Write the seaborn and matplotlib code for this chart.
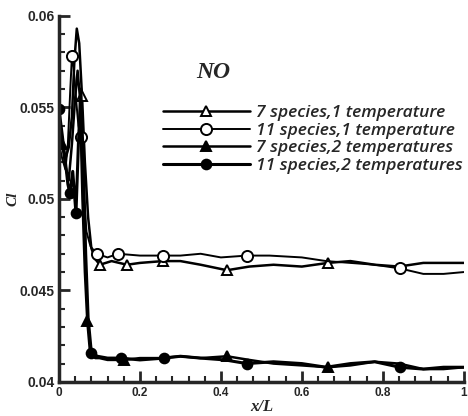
import numpy as np
import pandas as pd
import seaborn as sns
import matplotlib.pyplot as plt
from matplotlib.ticker import MultipleLocator

# 7 species, 1 temperature (open triangles)
x_7s1t = [0, 0.008, 0.016, 0.024, 0.032, 0.038, 0.044, 0.05, 0.057, 0.064, 0.072, 0.08, 0.09,
          0.101, 0.13, 0.168, 0.2, 0.257, 0.3, 0.35, 0.415, 0.47, 0.53, 0.6, 0.664, 0.72, 0.78,
          0.84, 0.9, 0.95, 1.0]
y_7s1t = [0.0538, 0.0530, 0.0522, 0.0528, 0.0545, 0.0575, 0.0593, 0.0585, 0.0556, 0.0520, 0.0490,
          0.0473, 0.0467, 0.0464, 0.0466, 0.0464, 0.0465, 0.0466, 0.0466, 0.0464, 0.0461, 0.0463,
          0.0464, 0.0463, 0.0465, 0.0466, 0.0464, 0.0463, 0.0465, 0.0465, 0.0465]
m_7s1t = [0.057, 0.101, 0.168, 0.257, 0.415, 0.664]

# 11 species, 1 temperature (open circles)
x_11s1t = [0, 0.008, 0.016, 0.022, 0.028, 0.032, 0.036, 0.042, 0.048, 0.054, 0.06, 0.068, 0.078,
           0.093, 0.12, 0.146, 0.2, 0.257, 0.3, 0.35, 0.4, 0.464, 0.52, 0.6, 0.66, 0.72, 0.78,
           0.842, 0.9, 0.95, 1.0]
y_11s1t = [0.0530, 0.0522, 0.0516, 0.0530, 0.0560, 0.0578, 0.0572, 0.0555, 0.0540, 0.0534, 0.0505,
           0.0482, 0.0474, 0.0470, 0.0468, 0.0470, 0.0469, 0.0469, 0.0469, 0.0470, 0.0468, 0.0469,
           0.0469, 0.0468, 0.0466, 0.0465, 0.0464, 0.0462, 0.0459, 0.0459, 0.0460]
m_11s1t = [0.032, 0.054, 0.093, 0.146, 0.257, 0.464, 0.842]

# 7 species, 2 temperatures (filled triangles)
x_7s2t = [0, 0.008, 0.016, 0.024, 0.032, 0.04, 0.046, 0.052, 0.058, 0.064, 0.07, 0.076, 0.082,
          0.09, 0.1, 0.12, 0.16, 0.2, 0.25, 0.3, 0.35, 0.415, 0.47, 0.53, 0.6, 0.664, 0.72, 0.78,
          0.84, 0.9, 0.95, 1.0]
y_7s2t = [0.0540, 0.0530, 0.0518, 0.0510, 0.0530, 0.0555, 0.0570, 0.0555, 0.0500, 0.0460, 0.0433,
          0.0418, 0.0414, 0.0413, 0.0413, 0.0412, 0.0412, 0.0413, 0.0413, 0.0414, 0.0413, 0.0414,
          0.0412, 0.0410, 0.0409, 0.0408, 0.0409, 0.0411, 0.0410, 0.0407, 0.0407, 0.0408]
m_7s2t = [0.008, 0.07, 0.16, 0.415, 0.664]

# 11 species, 2 temperatures (filled circles)
x_11s2t = [0, 0.008, 0.016, 0.022, 0.027, 0.034, 0.042, 0.048, 0.054, 0.06, 0.066, 0.072, 0.08,
           0.095, 0.12, 0.153, 0.2, 0.26, 0.3, 0.35, 0.41, 0.464, 0.53, 0.6, 0.66, 0.72, 0.78,
           0.842, 0.9, 0.95, 1.0]
y_11s2t = [0.0549, 0.0535, 0.0520, 0.0508, 0.0503, 0.0515, 0.0492, 0.0530, 0.0560, 0.0520, 0.0470,
           0.0435, 0.0416, 0.0414, 0.0413, 0.0413, 0.0412, 0.0413, 0.0414, 0.0413, 0.0412, 0.0410,
           0.0411, 0.0410, 0.0408, 0.0410, 0.0411, 0.0408, 0.0407, 0.0408, 0.0408]
m_11s2t = [0, 0.027, 0.042, 0.08, 0.153, 0.26, 0.464, 0.842]

labels = ["7 species,1 temperature", "11 species,1 temperature",
          "7 species,2 temperatures", "11 species,2 temperatures"]

sns.set_style("ticks")
plt.rcParams["font.family"] = ["Liberation Sans", "DejaVu Sans"]

fig = plt.figure(figsize=(4.68, 4.16), dpi=100)
ax = fig.add_axes([0.126, 0.082, 0.865, 0.88])

series = [
    (x_7s1t, y_7s1t, m_7s1t, "^", "white", 7.5, 1.8),
    (x_11s1t, y_11s1t, m_11s1t, "o", "white", 8, 1.4),
    (x_7s2t, y_7s2t, m_7s2t, "^", "black", 7, 1.8),
    (x_11s2t, y_11s2t, m_11s2t, "o", "black", 7, 2.2),
]
for (xs, ys, ms, mk, mfc, msz, lw), lab in zip(series, labels):
    df = pd.DataFrame({"x": xs, "y": ys})
    idx = [xs.index(v) for v in ms]
    sns.lineplot(data=df, x="x", y="y", sort=False, ax=ax, color="black", lw=lw,
                 marker=mk, markevery=idx, markersize=msz, markerfacecolor=mfc,
                 markeredgecolor="black", markeredgewidth=1.4, label=lab)

ax.set_xlim(0, 1)
ax.set_ylim(0.04, 0.06)
ax.xaxis.set_minor_locator(MultipleLocator(0.04))
ax.yaxis.set_minor_locator(MultipleLocator(0.001))
ax.set_xticks([0, 0.2, 0.4, 0.6, 0.8, 1.0])
ax.set_xticklabels(["0", "0.2", "0.4", "0.6", "0.8", "1"])
ax.set_yticks([0.04, 0.045, 0.05, 0.055, 0.06])
ax.set_yticklabels(["0.04", "0.045", "0.05", "0.055", "0.06"])
ax.tick_params(which="major", direction="in", length=8, width=2, pad=3)
ax.tick_params(axis="x", which="major", labelsize=8.5, pad=4)
ax.tick_params(axis="y", which="major", labelsize=10)
ax.tick_params(which="minor", direction="in", length=4, width=1.5)
for lab in ax.get_xticklabels() + ax.get_yticklabels():
    lab.set_fontweight("bold")
sns.despine(ax=ax)
ax.spines["left"].set_linewidth(2.5)
ax.spines["bottom"].set_linewidth(2.5)

ax.set_xlabel("x/L", family="Liberation Serif", style="italic", fontweight="bold",
              fontsize=12, labelpad=0)
ax.set_ylabel("Cl", family="Liberation Serif", style="italic", fontweight="bold",
              fontsize=11, labelpad=0)

leg = ax.legend(loc="upper left", bbox_to_anchor=(0.257, 0.757), frameon=False,
                borderpad=0, borderaxespad=0,
                handlelength=5.0, numpoints=1, handletextpad=0.35, labelspacing=0.09,
                prop={"family": "Open Sans", "style": "italic", "weight": "semibold",
                      "size": 12.5})
ax.text(0.38, 0.845, "NO", transform=ax.transAxes, ha="center", va="center",
        family="Liberation Serif", style="italic", fontweight="bold", fontsize=17)

fig.savefig("out.png", dpi=100)
